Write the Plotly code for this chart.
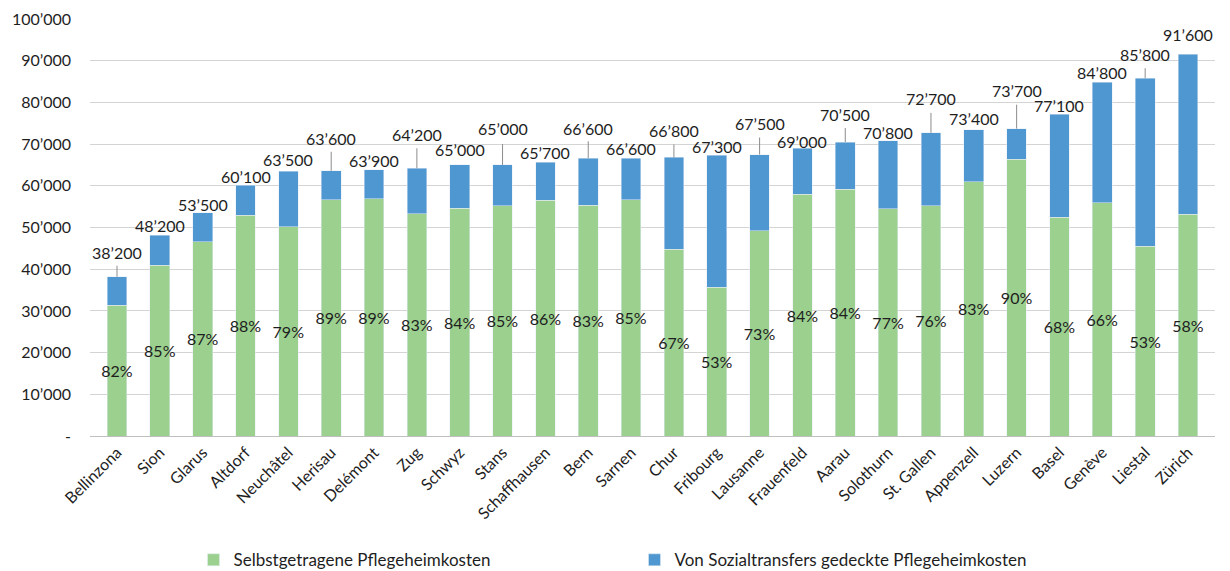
import plotly.graph_objects as go

# Nursing home costs per year (CHF) by city
cities = ["Bellinzona", "Sion", "Glarus", "Altdorf", "Neuchâtel", "Herisau", "Delémont",
          "Zug", "Schwyz", "Stans", "Schaffhausen", "Bern", "Sarnen", "Chur", "Fribourg",
          "Lausanne", "Frauenfeld", "Aarau", "Solothurn", "St. Gallen", "Appenzell",
          "Luzern", "Basel", "Genève", "Liestal", "Zürich"]
totals = [38200, 48200, 53500, 60100, 63500, 63600, 63900, 64200, 65000, 65000, 65700,
          66600, 66600, 66800, 67300, 67500, 69000, 70500, 70800, 72700, 73400, 73700,
          77100, 84800, 85800, 91600]
self_share_pct = [82, 85, 87, 88, 79, 89, 89, 83, 84, 85, 86, 83, 85, 67, 53, 73, 84, 84,
                  77, 76, 83, 90, 68, 66, 53, 58]
y_tick_values = [0, 10000, 20000, 30000, 40000, 50000, 60000, 70000, 80000, 90000, 100000]
y_tick_labels = ["-", "10’000", "20’000", "30’000", "40’000", "50’000", "60’000",
                 "70’000", "80’000", "90’000", "100’000"]
series_names = ["Selbstgetragene Pflegeheimkosten", "Von Sozialtransfers gedeckte Pflegeheimkosten"]

# Total-label placement above each bar (pixels), and leader-line length (0 = none)
label_shift = [24, 10, 8, 9, 12, 32, 9, 34, 15, 36, 10, 30, 10, 27, 9, 31, 7, 28, 8, 34,
               11, 38, 9, 10, 24, 20]
leader_len = [11, 0, 0, 0, 0, 19, 0, 20, 0, 21, 0, 17, 0, 13, 0, 17, 0, 14, 0, 20, 0, 24,
              0, 0, 10, 0]

GREEN = "#9BD08F"
BLUE = "#4F97D1"
FONT = "Lato"
TEXT = "#1e1e1e"

self_paid = [t * p / 100 for t, p in zip(totals, self_share_pct)]
transfers = [t - s for t, s in zip(totals, self_paid)]


def fmt(v):
    return f"{v:,}".replace(",", "’")


fig = go.Figure()
fig.add_trace(go.Bar(
    x=cities, y=self_paid, name=series_names[0], marker_color=GREEN,
    text=[f"{p}%" for p in self_share_pct], textposition="inside",
    insidetextanchor="middle", textangle=0, constraintext="none",
    textfont=dict(family=FONT, size=16, color=TEXT),
    cliponaxis=False,
))
fig.add_trace(go.Bar(
    x=cities, y=transfers, name=series_names[1], marker_color=BLUE,
))

for c, t, s, L in zip(cities, totals, label_shift, leader_len):
    fig.add_annotation(x=c, y=t, yshift=s, text=fmt(t), showarrow=False,
                       font=dict(family=FONT, size=16, color=TEXT),
                       xanchor="center", yanchor="middle")
    if L:
        fig.add_shape(type="line", xref="x", yref="y", x0=c, x1=c,
                      ysizemode="pixel", yanchor=t, y0=0, y1=L,
                      line=dict(color="#8c8c8c", width=1))

fig.update_layout(
    barmode="stack",
    bargap=0.54,
    width=1230, height=571,
    margin=dict(l=90, r=15, t=19, b=135, autoexpand=False),
    paper_bgcolor="white", plot_bgcolor="white",
    font=dict(family=FONT, size=16, color=TEXT),
    showlegend=True,
    legend=dict(orientation="h", x=0.092, xanchor="left", y=-0.298, yanchor="middle",
                traceorder="normal",
                entrywidth=396, entrywidthmode="pixels",
                font=dict(family=FONT, size=17, color=TEXT),
                bgcolor="rgba(0,0,0,0)", itemclick=False),
)
fig.update_yaxes(range=[0, 100000], tickvals=y_tick_values, ticktext=y_tick_labels,
                 showgrid=True, gridcolor="#d4d4d4", gridwidth=1, zeroline=False,
                 showline=False, ticks="", ticklabelstandoff=18, automargin=False,
                 tickfont=dict(family=FONT, size=16, color=TEXT))
fig.update_xaxes(tickangle=-45, showline=True, linecolor="#bfbfbf", linewidth=1,
                 ticks="", automargin=False,
                 tickfont=dict(family=FONT, size=16, color=TEXT))

fig.write_html("out.html")
